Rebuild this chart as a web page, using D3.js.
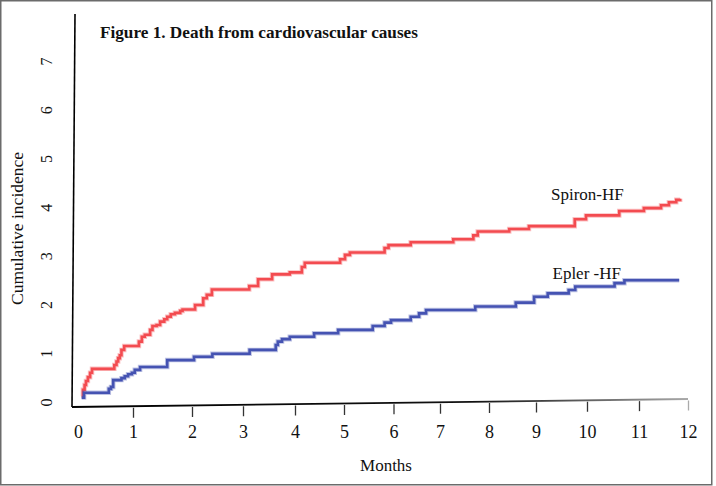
<!DOCTYPE html>
<html>
<head>
<meta charset="utf-8">
<script src="https://cdn.jsdelivr.net/npm/d3@7"></script>
<style>
  html, body { margin: 0; padding: 0; background: #fff; }
  svg { display: block; }
  text { font-family: "Liberation Serif", "Times New Roman", serif; fill: #111; }
</style>
</head>
<body>
<svg id="chart" width="716" height="486"></svg>
<script>
// ---------------- DATA ----------------
const title = "Figure 1. Death from cardiovascular causes";
const xLabel = "Months";
const yLabel = "Cumulative incidence";
const xTicks = [0, 1, 2, 3, 4, 5, 6, 7, 8, 9, 10, 11, 12];
const yTicks = [0, 1, 2, 3, 4, 5, 6, 7];
const seriesNames = ["Spiron-HF", "Epler -HF"];

// Spironolactone (red) step curve: months and cumulative incidence (%)
const spironT = [0.067, 0.09, 0.12, 0.145, 0.18, 0.22, 0.255, 0.66, 0.70, 0.73, 0.76, 0.79, 0.84,
  1.10, 1.15, 1.20, 1.29, 1.33, 1.40, 1.46, 1.53, 1.58, 1.64, 1.71, 1.80, 1.84,
  2.06, 2.22, 2.29, 2.39, 3.12, 3.29, 3.56, 3.90, 4.14, 4.20, 4.92, 5.02, 5.12,
  5.82, 5.90, 6.37, 7.27, 7.68, 7.77, 8.43, 8.85, 9.76, 9.98, 10.62, 11.10, 11.45, 11.61, 11.76, 11.84];
const spironV = [0.12, 0.25, 0.35, 0.43, 0.51, 0.60, 0.68, 0.76, 0.83, 0.90, 0.96, 1.07, 1.15,
  1.24, 1.34, 1.38, 1.48, 1.56, 1.58, 1.65, 1.70, 1.75, 1.80, 1.83, 1.87, 1.90,
  1.99, 2.13, 2.20, 2.31, 2.38, 2.52, 2.62, 2.66, 2.77, 2.86, 2.93, 3.02, 3.07,
  3.16, 3.22, 3.28, 3.34, 3.42, 3.50, 3.55, 3.61, 3.75, 3.83, 3.92, 3.98, 4.04, 4.10, 4.15, 4.17];

// Eplerenone (blue) step curve
const eplerT = [0.067, 0.11, 0.56, 0.60, 0.64, 0.79, 0.85, 0.91, 0.98, 1.03, 1.12, 1.58, 2.04, 2.40,
  3.127, 3.63, 3.67, 3.75, 3.90, 4.39, 4.88, 5.58, 5.82, 5.95, 6.37, 6.55, 6.70, 7.72,
  8.57, 8.96, 9.23, 9.64, 9.77, 10.53, 10.72, 11.82];
const eplerV = [0.09, 0.19, 0.27, 0.31, 0.45, 0.49, 0.53, 0.57, 0.60, 0.66, 0.72, 0.86, 0.93, 0.99,
  1.07, 1.17, 1.24, 1.29, 1.34, 1.41, 1.48, 1.56, 1.63, 1.68, 1.75, 1.82, 1.89, 1.96,
  2.04, 2.16, 2.23, 2.30, 2.37, 2.44, 2.50, 2.50];

// ---------------- LAYOUT ----------------
const svg = d3.select("#chart");
const colors = ["#f34b50", "#4553b2"];

// The scanned axis has uneven month spacing: piecewise linear scale
const x = d3.scaleLinear()
  .domain(xTicks)
  .range([78, 133, 192, 243, 295, 344, 393.5, 440, 489, 536, 587, 639, 688]);
const y = d3.scaleLinear().domain([0, 7]).range([402, 61]);

// frame
svg.append("rect")
  .attr("x", 0.75).attr("y", 0.75).attr("width", 711).attr("height", 484)
  .attr("fill", "none").attr("stroke", "#6b6b6b").attr("stroke-width", 1.5);

// gradient for fading x-axis line
const defs = svg.append("defs");
const grad = defs.append("linearGradient").attr("id", "axfade")
  .attr("gradientUnits", "userSpaceOnUse")
  .attr("x1", 72).attr("x2", 690).attr("y1", 0).attr("y2", 0);
grad.append("stop").attr("offset", "0%").attr("stop-color", "#000");
grad.append("stop").attr("offset", "65%").attr("stop-color", "#111");
grad.append("stop").attr("offset", "100%").attr("stop-color", "#aaa");

// y axis line (slightly tilted)
svg.append("line")
  .attr("x1", 75).attr("y1", 14).attr("x2", 72).attr("y2", 407)
  .attr("stroke", "#000").attr("stroke-width", 1.6);

// x axis (tilted baseline with ticks)
const slope = -8 / 616;
const skewDeg = Math.atan(slope) * 180 / Math.PI;
const xAxisG = svg.append("g")
  .attr("transform", `translate(0,${407 - 72 * slope}) skewY(${skewDeg})`);
xAxisG.append("line")
  .attr("x1", 72).attr("x2", 688).attr("y1", 0).attr("y2", 0)
  .attr("stroke", "url(#axfade)").attr("stroke-width", 1.8);
const tickAxis = xAxisG.append("g").attr("transform", "translate(0,1.5)")
  .call(d3.axisBottom(x).tickValues(xTicks.slice(1)).tickSize(10).tickFormat(""));
tickAxis.select(".domain").remove();
tickAxis.selectAll(".tick line")
  .attr("stroke", (d) => d === 12 ? "#aaa" : "#333")
  .attr("stroke-width", 1.3);

// x tick labels
const xLab = svg.append("g").attr("transform", "translate(0,425)")
  .call(d3.axisBottom(x).tickValues(xTicks).tickSize(0).tickPadding(0).tickFormat(d3.format("d")));
xLab.select(".domain").remove();
xLab.attr("font-family", null).attr("font-size", null);
xLab.selectAll(".tick text")
  .attr("dy", "0.71em")
  .style("font-size", "18px")
  .style("fill", "#111");

// y tick labels (rotated)
const yLab = svg.append("g").attr("transform", "translate(52,0)")
  .call(d3.axisLeft(y).tickValues(yTicks).tickSize(0).tickPadding(0).tickFormat(d3.format("d")));
yLab.select(".domain").remove();
yLab.attr("font-family", null).attr("font-size", null);
yLab.selectAll(".tick text")
  .attr("x", 0).attr("y", 0).attr("dy", 0)
  .attr("transform", "rotate(-90)")
  .attr("text-anchor", "middle")
  .style("font-size", "16px")
  .style("fill", "#111");

// axis titles
svg.append("text")
  .attr("x", 386).attr("y", 471)
  .attr("text-anchor", "middle")
  .style("font-size", "17px")
  .text(xLabel);
svg.append("text")
  .attr("transform", "translate(23,228.5) rotate(-90)")
  .attr("text-anchor", "middle")
  .style("font-size", "17.5px")
  .text(yLabel);

// title
svg.append("text")
  .attr("x", 100).attr("y", 37.5)
  .style("font-size", "17.2px")
  .style("font-weight", "bold")
  .text(title);

// curves
const line = d3.line()
  .x((d) => x(d[0]))
  .y((d) => y(d[1]))
  .curve(d3.curveStepAfter);
const curves = [d3.zip(spironT, spironV), d3.zip(eplerT, eplerV)];
curves.forEach((pts, i) => {
  svg.append("path")
    .datum(pts)
    .attr("fill", "none")
    .attr("stroke", colors[i])
    .attr("stroke-opacity", 0.35)
    .attr("stroke-width", 4.5)
    .attr("d", line);
  svg.append("path")
    .datum(pts)
    .attr("fill", "none")
    .attr("stroke", colors[i])
    .attr("stroke-width", 2.6)
    .attr("d", line);
});

// series labels
svg.append("text").attr("x", 551).attr("y", 200)
  .style("font-size", "17px").text(seriesNames[0]);
svg.append("text").attr("x", 552.5).attr("y", 279)
  .style("font-size", "17px").text(seriesNames[1]);
</script>
</body>
</html>
